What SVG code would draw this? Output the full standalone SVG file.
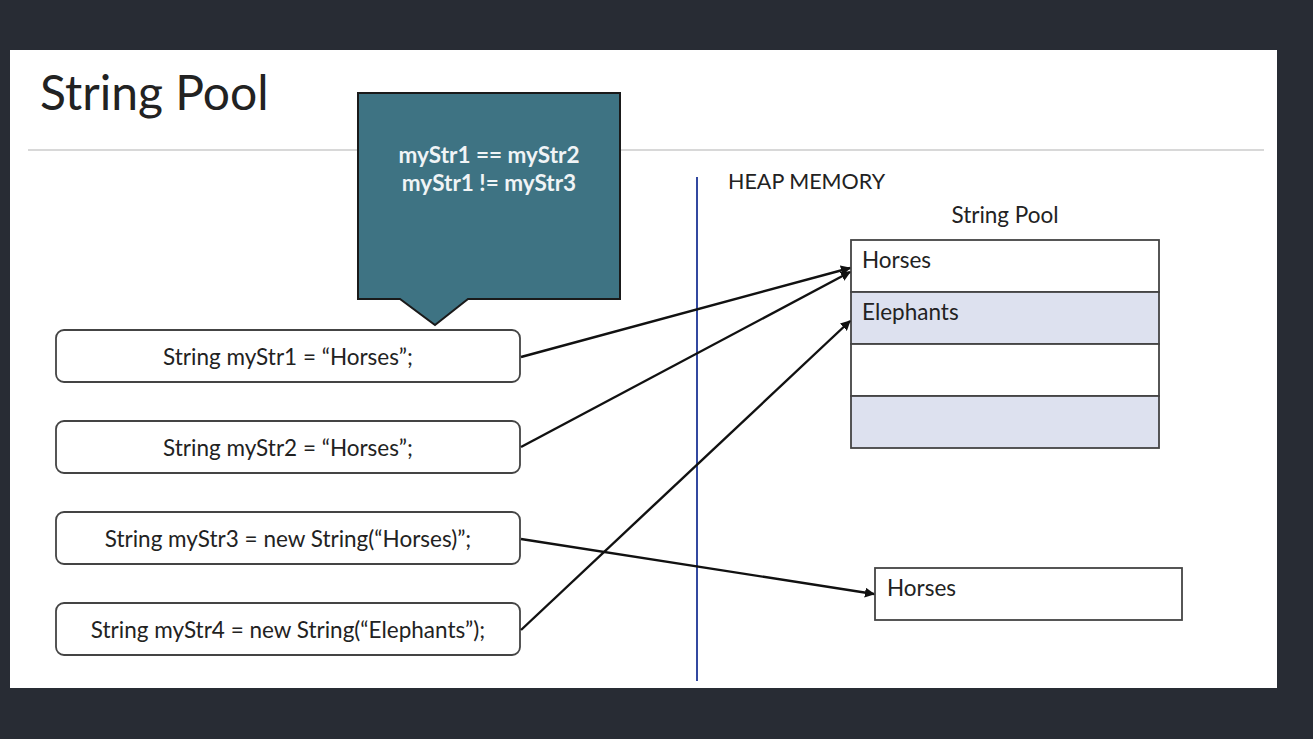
<svg xmlns="http://www.w3.org/2000/svg" width="1313" height="739" viewBox="0 0 1313 739">
<style>
.t{font-family:Lato,"Liberation Sans",sans-serif;fill:#222}
.code{fill:#fff;stroke:#444;stroke-width:1.8}
.cell{stroke:#444;stroke-width:1.8}
.conn{stroke:#111;stroke-width:2.4;fill:none;marker-end:url(#ah)}
</style>
<defs>
<marker id="ah" viewBox="0 0 10 10" refX="9" refY="5" markerWidth="4.2" markerHeight="4.2" orient="auto"><path d="M0,0 L10,5 L0,10 z" fill="#111"/></marker>
</defs>
<rect width="1313" height="739" fill="#282c34"/>
<rect x="10" y="50" width="1267" height="638" fill="#fff"/>
<text class="t" x="40" y="110" font-size="48">String Pool</text>
<line x1="28" y1="150" x2="1264" y2="150" stroke="#d8d8d8" stroke-width="2"/>
<g id="callout">
<path d="M358,93 H620 V299 H468 L435,325 L400,299 H358 Z" fill="#3e7383" stroke="#1a1a1a" stroke-width="2"/>
<text x="489" y="163" font-size="22.5" font-weight="bold" fill="#f0f4f6" text-anchor="middle" font-family="Lato,'Liberation Sans',sans-serif">myStr1 == myStr2</text>
<text x="489" y="191" font-size="22.5" font-weight="bold" fill="#f0f4f6" text-anchor="middle" font-family="Lato,'Liberation Sans',sans-serif">myStr1 != myStr3</text>
</g>
<g id="s1"><rect class="code" x="56" y="330" width="464" height="52" rx="8"/><text class="t" x="288" y="365" font-size="22.5" text-anchor="middle">String myStr1 = “Horses”;</text></g>
<g id="s2"><rect class="code" x="56" y="421" width="464" height="52" rx="8"/><text class="t" x="288" y="456" font-size="22.5" text-anchor="middle">String myStr2 = “Horses”;</text></g>
<g id="s3"><rect class="code" x="56" y="512" width="464" height="52" rx="8"/><text class="t" x="288" y="547" font-size="22.5" text-anchor="middle">String myStr3 = new String(“Horses)”;</text></g>
<g id="s4"><rect class="code" x="56" y="603" width="464" height="52" rx="8"/><text class="t" x="288" y="638" font-size="22.5" text-anchor="middle">String myStr4 = new String(“Elephants”);</text></g>
<g id="divider"><line x1="697" y1="177" x2="697" y2="681" stroke="#3248a0" stroke-width="2"/></g>
<g id="heap"><text class="t" x="728" y="189" font-size="21.5">HEAP MEMORY</text></g>
<g id="pool">
<text class="t" x="1005" y="223" font-size="22.5" text-anchor="middle">String Pool</text>
<rect class="cell" x="851" y="240" width="308" height="52" fill="#fff"/>
<rect class="cell" x="851" y="292" width="308" height="52" fill="#dde1ef"/>
<rect class="cell" x="851" y="344" width="308" height="52" fill="#fff"/>
<rect class="cell" x="851" y="396" width="308" height="52" fill="#dde1ef"/>
<text class="t" x="862" y="268" font-size="22.5">Horses</text>
<text class="t" x="862" y="320" font-size="22.5">Elephants</text>
</g>
<g id="heapobj"><rect class="cell" x="875" y="568" width="307" height="52" fill="#fff"/><text class="t" x="887" y="596" font-size="22.5">Horses</text></g>
<g id="connectors">
<line class="conn" x1="521" y1="357" x2="850" y2="268"/>
<line class="conn" x1="521" y1="447" x2="850" y2="272"/>
<line class="conn" x1="521" y1="539" x2="874" y2="594"/>
<line class="conn" x1="521" y1="630" x2="850" y2="321"/>
</g>
</svg>
